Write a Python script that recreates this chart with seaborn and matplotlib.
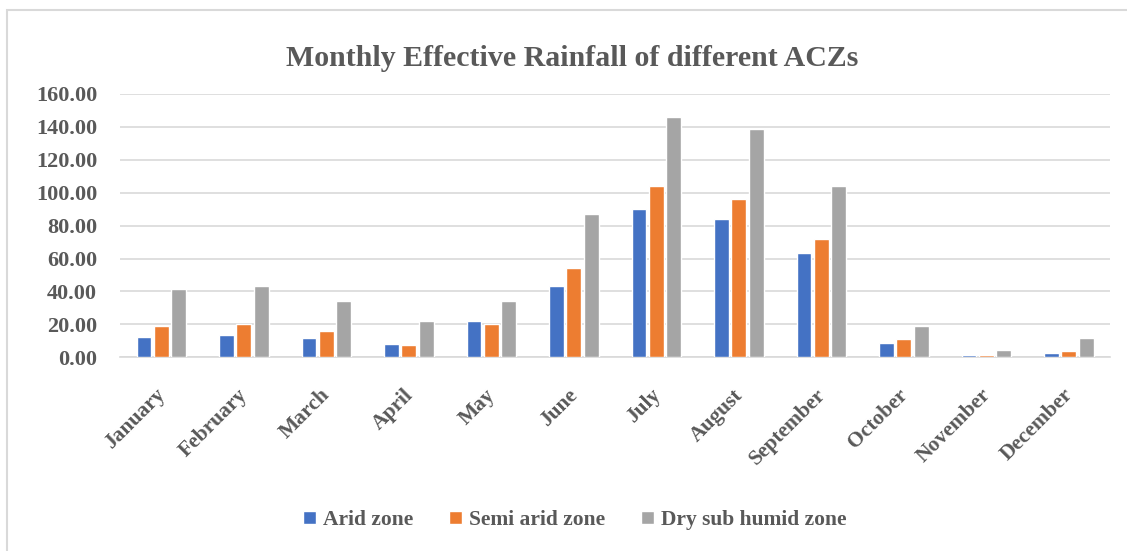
import numpy as np
import pandas as pd
import matplotlib
matplotlib.use("Agg")
import matplotlib.pyplot as plt
import matplotlib.transforms as mtransforms
import seaborn as sns
from matplotlib.patches import Rectangle

# ─── DATA ────────────────────────────────────────────────────────────────────
months = ["January", "February", "March", "April", "May", "June", "July",
          "August", "September", "October", "November", "December"]
zones = ["Arid zone", "Semi arid zone", "Dry sub humid zone"]
arid = [12.5, 13.4, 11.5, 7.9, 22.0, 43.4, 90.4, 83.8, 63.6, 8.7, 1.6, 2.8]
semi_arid = [19.2, 20.0, 15.8, 7.5, 20.0, 54.3, 104.0, 96.0, 71.9, 11.3, 1.6, 4.0]
dry_sub_humid = [41.7, 43.3, 34.4, 22.3, 34.4, 87.2, 146.0, 138.7, 104.2, 18.8, 4.7, 11.9]
yticks = [0, 20, 40, 60, 80, 100, 120, 140, 160]

df = pd.DataFrame({
    "Month": months * 3,
    "Zone": [z for z in zones for _ in months],
    "Rainfall": arid + semi_arid + dry_sub_humid,
})

# ─── STYLE ───────────────────────────────────────────────────────────────────
sns.set_style("white")
plt.rcParams["font.family"] = ["Liberation Serif", "DejaVu Serif"]
TXT = "#595959"
GRID = "#d9d9d9"
palette = ["#4472C4", "#ED7D31", "#A5A5A5"]

fig = plt.figure(figsize=(11.27, 5.51), dpi=100)
ax = fig.add_axes([0.1065, 0.3515, 0.8785, 0.478])

sns.barplot(data=df, x="Month", y="Rainfall", hue="Zone", order=months,
            hue_order=zones, palette=palette, width=0.63, gap=0.14,
            saturation=1, ax=ax, legend=True, zorder=3)

ax.set_ylim(0, 160)
ax.set_xlim(-0.5, len(months) - 0.5)
ax.set_yticks(yticks)
ax.set_yticklabels([f"{v:.2f}" for v in yticks], fontsize=16,
                   fontweight="bold", color=TXT)
ax.set_xticks(range(len(months)))
ax.set_xticklabels(months, rotation=45, ha="right", rotation_mode="anchor",
                   fontsize=15.5, fontweight="bold", color=TXT)
ax.tick_params(axis="y", length=0, pad=16.5)
ax.tick_params(axis="x", length=0, pad=20)
shift = mtransforms.ScaledTranslation(-6 / 100, 0, fig.dpi_scale_trans)
for lab in ax.get_xticklabels():
    lab.set_transform(lab.get_transform() + shift)
ax.set_xlabel("")
ax.set_ylabel("")
ax.yaxis.grid(True, color=GRID, lw=1.2)
ax.set_axisbelow(True)
for s in ["top", "right", "left"]:
    ax.spines[s].set_visible(False)
ax.spines["bottom"].set_color(GRID)
ax.spines["bottom"].set_linewidth(1.2)
ax.spines["bottom"].set_zorder(1)

# legend below the plot
handles, labels = ax.get_legend_handles_labels()
ax.get_legend().remove()
leg = fig.legend(handles, labels, loc="center", bbox_to_anchor=(0.51, 0.056),
                 ncol=3, frameon=False, handlelength=0.6, handleheight=0.6,
                 handletextpad=0.3, columnspacing=1.7,
                 prop={"size": 15.5, "weight": "bold"})
for t in leg.get_texts():
    t.set_color(TXT)

fig.suptitle("Monthly Effective Rainfall of different ACZs", x=0.508, y=0.918,
             fontsize=21.5, fontweight="bold", color=TXT)

# light chart border
fig.add_artist(Rectangle((0.006, -0.05), 1.05, 1.032, transform=fig.transFigure,
                         fill=False, edgecolor=GRID, lw=1.5))

fig.savefig("out.png", dpi=100)
